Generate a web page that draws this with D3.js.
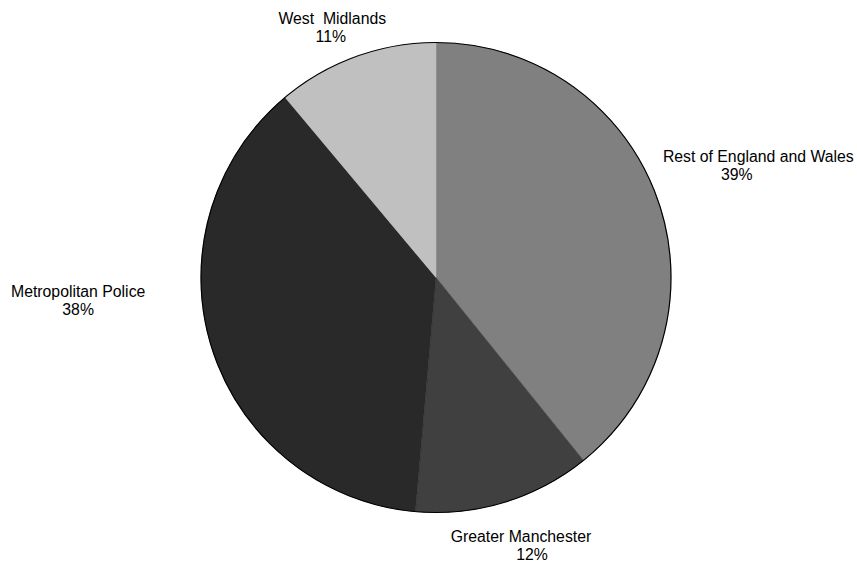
<!DOCTYPE html>
<html>
<head>
<meta charset="utf-8">
<script src="https://cdn.jsdelivr.net/npm/d3@7"></script>
<style>
  html, body { margin: 0; padding: 0; background: #fff; }
  svg { display: block; }
</style>
</head>
<body>
<svg id="chart" width="857" height="563"></svg>
<script>
// Data (clockwise from 12 o'clock)
const categories = ["Rest of England and Wales", "Greater Manchester", "Metropolitan Police", "West  Midlands"];
const shares = [39.2, 12.2, 37.5, 11.1];
const percentLabels = ["39%", "12%", "38%", "11%"];
const sliceColors = ["#808080", "#404040", "#292929", "#c0c0c0"];

const width = 857, height = 563;
const cx = 436, cy = 277.5, radius = 235;

const svg = d3.select("#chart");
const g = svg.append("g").attr("transform", `translate(${cx},${cy})`);

const pie = d3.pie().sort(null).value(d => d)
  .startAngle(0).endAngle(2 * Math.PI);
const arcs = pie(shares);
const arc = d3.arc().innerRadius(0).outerRadius(radius);

g.selectAll("path.slice")
  .data(arcs)
  .join("path")
  .attr("class", "slice")
  .attr("d", arc)
  .attr("fill", (d, i) => sliceColors[i])
  .attr("stroke", (d, i) => sliceColors[i])
  .attr("stroke-width", 0.5);

// outer outline
g.append("circle")
  .attr("r", radius)
  .attr("fill", "none")
  .attr("stroke", "#000")
  .attr("stroke-width", 1.2);

// Label layout: radial distance, angular nudge from slice mid-angle, first-line x shift
const labelLayout = [
  { r: 319, dAng: 0.0,    dx1: 21.5 },
  { r: 290, dAng: -0.042, dx1: -11 },
  { r: 359, dAng: 0.225,  dx1: 0 },
  { r: 266, dAng: -0.058, dx1: 1.5 }
];

const labels = g.selectAll("g.label")
  .data(arcs)
  .join("g")
  .attr("class", "label")
  .attr("transform", (d, i) => {
    const a = (d.startAngle + d.endAngle) / 2 + labelLayout[i].dAng;
    const r = labelLayout[i].r;
    return `translate(${r * Math.sin(a)},${-r * Math.cos(a)})`;
  });

labels.append("text")
  .attr("text-anchor", "middle")
  .attr("font-family", "Liberation Sans, Arial, sans-serif")
  .attr("font-size", 15.8)
  .attr("fill", "#000")
  .attr("xml:space", "preserve")
  .style("white-space", "pre")
  .each(function(d, i) {
    const t = d3.select(this);
    t.append("tspan").attr("x", labelLayout[i].dx1).attr("y", -9).text(categories[i]);
    t.append("tspan").attr("x", 0).attr("y", 9).text(percentLabels[i]);
  });
</script>
</body>
</html>
